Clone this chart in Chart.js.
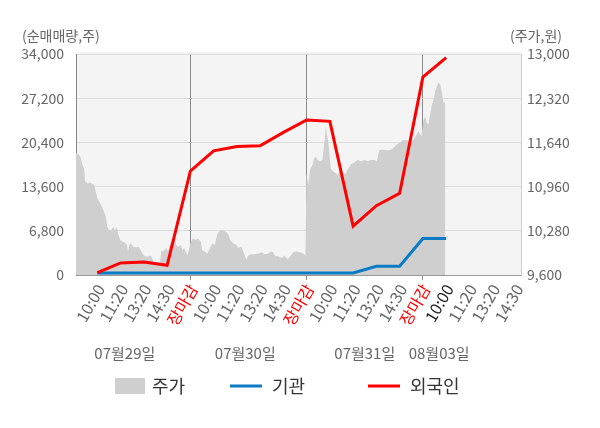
<!DOCTYPE html>
<html>
<head>
<meta charset="utf-8">
<script src="https://cdn.jsdelivr.net/npm/chart.js@4/dist/chart.umd.min.js"></script>
<style>
  html, body { margin: 0; padding: 0; background: #fff; }
  #wrap { width: 600px; height: 428px; position: relative; }
</style>
</head>
<body>
<div id="wrap"><canvas id="flowChart"></canvas></div>
<script>
// x tick labels (one per session slot)
const tickLabels = ['10:00', '11:20', '13:20', '14:30', '장마감',
                    '10:00', '11:20', '13:20', '14:30', '장마감',
                    '10:00', '11:20', '13:20', '14:30', '장마감',
                    '10:00', '11:20', '13:20', '14:30'];
const dateLabels = ['07월29일', '07월30일', '07월31일', '08월03일'];
const todayTick = 15;

// cumulative net buying (shares), one value per tick slot
const foreignNet = [370, 1850, 2000, 1500, 16000, 19100, 19780, 19880, 21940, 23850,
                    23640, 7520, 10660, 12580, 30440, 33430];
const instNet = [300, 300, 300, 300, 300, 300, 300, 300, 300, 300,
                 300, 300, 1340, 1340, 5620, 5620];

// intraday price (won), position measured in tick slots
const priceX = [
  -0.92, -0.79, -0.71, -0.65, -0.57, -0.53, -0.43, -0.28, -0.22, -0.14, -0.07, 0.00, 0.07, 0.15,
  0.22, 0.29, 0.36, 0.43, 0.50, 0.58, 0.69, 0.75, 0.84, 0.89, 0.98, 1.08, 1.18, 1.27, 1.32,
  1.38, 1.44, 1.55, 1.65, 1.79, 1.94, 2.04, 2.15, 2.30, 2.44, 2.58, 2.70, 2.75, 2.84, 2.94,
  3.04, 3.16, 3.23, 3.30, 3.39, 3.47, 3.59, 3.66, 3.73, 3.87, 3.95,
  4.02, 4.12, 4.22, 4.33, 4.45, 4.51, 4.62, 4.73, 4.84, 4.94, 5.05, 5.16, 5.27, 5.41, 5.55,
  5.65, 5.74, 5.84, 5.98, 6.05, 6.20, 6.31, 6.41, 6.48, 6.63, 6.77, 6.92, 7.06, 7.20, 7.35,
  7.46, 7.56, 7.66, 7.78, 7.92, 8.06, 8.18, 8.28, 8.42, 8.56, 8.71, 8.85, 8.95,
  8.99, 9.07, 9.15, 9.25, 9.33, 9.40, 9.47, 9.58, 9.68, 9.76, 9.83, 9.87, 9.93, 9.97, 10.04,
  10.16, 10.26, 10.33, 10.44, 10.50, 10.59, 10.69, 10.79, 10.90, 11.05, 11.19, 11.33, 11.48,
  11.62, 11.76, 11.91, 12.02, 12.12, 12.26, 12.41, 12.55, 12.69, 12.84, 12.98, 13.12, 13.27,
  13.41, 13.55, 13.70, 13.81, 13.93,
  14.03, 14.10, 14.17, 14.24, 14.32, 14.39, 14.46, 14.53, 14.61, 14.67, 14.75, 14.82, 14.89, 14.96
];
const priceY = [
  11480, 11450, 11400, 11300, 11240, 11040, 11010, 11020, 11000, 10990, 10880, 10780, 10730, 10680,
  10630, 10570, 10500, 10340, 10290, 10290, 10340, 10290, 10340, 10240, 10140, 10110, 10100, 10060, 9960,
  10060, 10090, 10030, 10030, 10030, 9930, 9890, 9880, 9900, 9780, 9750, 9810, 9980, 9960, 10010,
  9970, 10110, 10110, 10210, 10060, 10030, 10060, 9980, 10010, 9900, 10010,
  10110, 10160, 10140, 10160, 10110, 9980, 9960, 9930, 10010, 10090, 10060, 10240, 10280, 10290, 10260,
  10210, 10120, 10090, 10060, 10020, 10030, 9930, 9830, 9900, 9920, 9920, 9930, 9950, 9920, 9930,
  9960, 9950, 9890, 9890, 9860, 9900, 9840, 9880, 9950, 9960, 9950, 9930, 9900,
  11170, 10990, 11220, 11300, 11400, 11420, 11370, 11350, 11370, 11630, 11890, 11760, 11660, 11500, 11240,
  11190, 11170, 11140, 11240, 11220, 11140, 11170, 11240, 11300, 11330, 11370, 11350, 11370,
  11350, 11370, 11370, 11350, 11520, 11530, 11520, 11520, 11540, 11600, 11630, 11670, 11680,
  11660, 11660, 11740, 11810, 11730,
  11990, 12040, 11940, 11920, 12090, 12220, 12300, 12430, 12510, 12560, 12530, 12400, 12250, 12250
];
const baseLine = 400;

const FONT = "'Noto Sans CJK KR', 'Noto Sans', sans-serif";

const decorPlugin = {
  id: 'decor',
  beforeDraw(chart) {
    const { ctx, chartArea: a } = chart;
    ctx.save();
    ctx.fillStyle = '#f4f4f4';
    ctx.fillRect(a.left, a.top - 2, a.right - a.left, a.bottom - a.top + 2);
    ctx.restore();
  },
  afterDatasetsDraw(chart) {
    // thin baseline under the flow lines
    const { ctx, chartArea: a } = chart;
    const y = chart.scales.y.getPixelForValue(baseLine);
    ctx.save();
    ctx.strokeStyle = '#9a9a9a';
    ctx.lineWidth = 1;
    ctx.globalCompositeOperation = 'destination-over';
    ctx.beginPath();
    ctx.moveTo(a.left, y);
    ctx.lineTo(a.right, y);
    ctx.stroke();
    ctx.restore();
  },
  afterDraw(chart) {
    const { ctx } = chart;
    const xs = chart.scales.x;
    ctx.save();
    ctx.font = '14px ' + FONT;
    ctx.fillStyle = '#666';
    ctx.textBaseline = 'middle';
    ctx.textAlign = 'left';
    ctx.fillText('(순매매량,주)', 22, 36);
    ctx.textAlign = 'right';
    ctx.fillText('(주가,원)', 562, 36);

    // day labels under the time ticks
    const datePos = [1.18, 6.36, 11.5, 14.7];
    ctx.font = '15px ' + FONT;
    ctx.textAlign = 'center';
    dateLabels.forEach((d, i) => {
      ctx.fillText(d, xs.getPixelForValue(datePos[i]), 353);
    });

    // legend
    const ly = 386;
    ctx.font = '18px ' + FONT;
    ctx.textAlign = 'left';
    ctx.fillStyle = '#cfcfcf';
    ctx.fillRect(115, ly - 8, 30, 16);
    ctx.fillStyle = '#333';
    ctx.fillText('주가', 152, ly);

    ctx.strokeStyle = '#0a7bc4';
    ctx.lineWidth = 3;
    ctx.beginPath(); ctx.moveTo(230, ly); ctx.lineTo(262, ly); ctx.stroke();
    ctx.fillText('기관', 272, ly);

    ctx.strokeStyle = '#ff0000';
    ctx.beginPath(); ctx.moveTo(368, ly); ctx.lineTo(400, ly); ctx.stroke();
    ctx.fillText('외국인', 410, ly);
    ctx.restore();
  }
};

const ctx = document.getElementById('flowChart').getContext('2d');

new Chart(ctx, {
  type: 'line',
  data: {
    datasets: [
      {
        label: '외국인',
        data: foreignNet.map((v, i) => ({ x: i, y: v })),
        yAxisID: 'y',
        borderColor: '#ff0000',
        borderWidth: 3,
        pointRadius: 0,
        tension: 0,
        order: 1
      },
      {
        label: '기관',
        data: instNet.map((v, i) => ({ x: i, y: v })),
        yAxisID: 'y',
        borderColor: '#0a7bc4',
        borderWidth: 3,
        pointRadius: 0,
        tension: 0,
        order: 2
      },
      {
        label: '주가',
        data: priceX.map((x, i) => ({ x: x, y: priceY[i] })),
        yAxisID: 'y1',
        borderWidth: 0,
        borderColor: 'rgba(0,0,0,0)',
        backgroundColor: '#cfcfcf',
        fill: 'start',
        pointRadius: 0,
        tension: 0,
        order: 3
      }
    ]
  },
  options: {
    responsive: true,
    maintainAspectRatio: false,
    animation: false,
    layout: { padding: { top: 54, left: 0, right: 0, bottom: 0 } },
    plugins: {
      legend: { display: false },
      tooltip: { enabled: false }
    },
    scales: {
      x: {
        type: 'linear',
        min: -0.92,
        max: 18.22,
        afterBuildTicks: (scale) => {
          scale.ticks = tickLabels.map((_, i) => ({ value: i }));
        },
        afterFit: (scale) => { scale.height = 153; },
        grid: {
          color: (c) => tickLabels[c.index] === '장마감' ? '#8a8a8a' : 'rgba(0,0,0,0)',
          tickLength: 5,
          lineWidth: 1
        },
        border: { color: '#9a9a9a' },
        ticks: {
          autoSkip: false,
          minRotation: 60,
          maxRotation: 60,
          padding: 1,
          labelOffset: 3,
          font: { family: FONT, size: 16 },
          color: (c) => tickLabels[c.index] === '장마감' ? '#ff0000' : (c.index === todayTick ? '#222' : '#666'),
          callback: (value) => tickLabels[value]
        }
      },
      y: {
        position: 'left',
        min: 0,
        max: 34000,
        afterFit: (scale) => { scale.width = 76; },
        grid: { color: '#dcdcdc', drawTicks: false },
        border: { color: '#888' },
        ticks: {
          stepSize: 6800,
          padding: 12,
          color: '#666',
          font: { family: FONT, size: 14 },
          callback: (v) => v.toLocaleString('en-US')
        }
      },
      y1: {
        position: 'right',
        min: 9600,
        max: 13000,
        afterFit: (scale) => { scale.width = 79; },
        grid: { drawOnChartArea: false, drawTicks: false },
        border: { color: '#cccccc' },
        ticks: {
          stepSize: 680,
          padding: 6,
          color: '#666',
          font: { family: FONT, size: 14 },
          callback: (v) => v.toLocaleString('en-US')
        }
      }
    }
  },
  plugins: [decorPlugin]
});
</script>
</body>
</html>
